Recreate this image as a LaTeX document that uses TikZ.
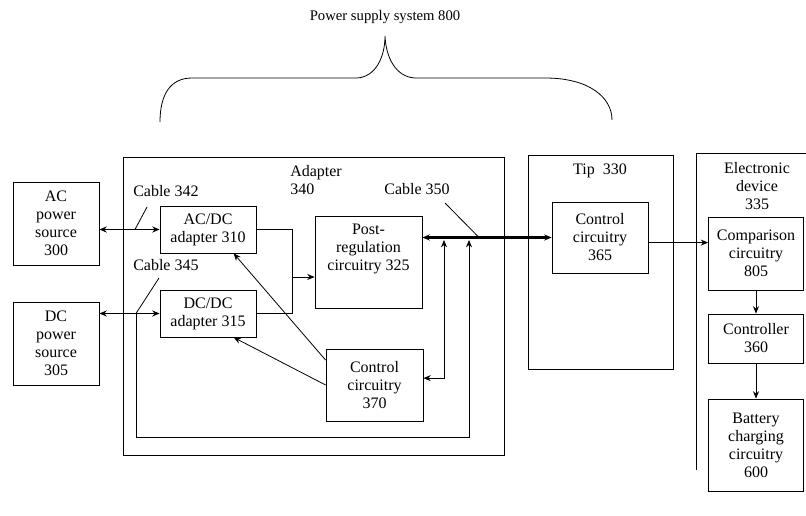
\documentclass[tikz,border=0pt]{standalone}
\usepackage{fontspec}
\setmainfont{Liberation Serif}
\usetikzlibrary{arrows.meta}
\begin{document}
\begin{tikzpicture}[>={Stealth[length=5.5pt,width=4.5pt]}, x=0.75pt, y=-0.75pt,
  font=\fontsize{12}{13.5}\selectfont,
  box/.style={draw, line width=0.6pt, align=center, inner sep=1pt},
  frame/.style={draw, line width=0.6pt, inner sep=0pt},
  cable/.style={<->, line width=1.3pt},
  bus/.style={<->, line width=2pt},
  wire/.style={line width=0.6pt}]
  \useasboundingbox (0,0) rectangle (806,516);
  % brace and title: power supply system
  \node (title) at (385,17) {\fontsize{11}{13}\selectfont Power supply system 800};
  \draw[wire] (160,122) .. controls (160,95) and (170,78) .. (192,78) -- (357,78)
    .. controls (375,77) and (385,58) .. (385,36)
    .. controls (386,58) and (396,77) .. (415,78) -- (545,78)
    .. controls (590,78) and (612,98) .. (612,120);
  % sources
  \node[box, minimum width=64.5pt, minimum height=62.25pt] (acsrc) at (56,223.5) {AC\\power\\source\\300};
  \node[box, minimum width=64.5pt, minimum height=62.25pt] (dcsrc) at (56,343.5) {DC\\power\\source\\305};
  % adapter 340
  \node[frame, minimum width=285.75pt, minimum height=223.5pt] (adapter) at (313.5,306) {};
  \node[anchor=north west, align=left, inner sep=0pt] (adaptertext) at (290,165) {Adapter\\340};
  \node[box, minimum width=72pt, minimum height=35.25pt] (acdc) at (208,229.5) {AC/DC\\adapter 310};
  \node[box, minimum width=72pt, minimum height=35.25pt] (dcdc) at (208,313.5) {DC/DC\\adapter 315};
  \node[box, minimum width=80.25pt, minimum height=69pt] (postreg) at (368.5,262) {};
  \node[anchor=north, align=center, inner sep=0pt] (postregtext) at (368.5,224) {Post-\\regulation\\circuitry 325};
  \node[box, minimum width=72.75pt, minimum height=54pt] (ctl370) at (374.5,385) {Control\\circuitry\\370};
  % tip 330
  \node[frame, minimum width=108.75pt, minimum height=160.5pt] (tip) at (600.5,262) {};
  \node (tiptext) at (600,171) {Tip\ \ 330};
  \node[box, minimum width=72pt, minimum height=53.25pt] (ctl365) at (600,237.5) {Control\\circuitry\\365};
  % electronic device 335
  \coordinate (devtop) at (696,153);
  \draw[wire] (806,153) -- (devtop) -- (696,470);
  \node[align=center] (devtext) at (757,186) {Electronic\\device\\335};
  \node[box, minimum width=71.25pt, minimum height=54.75pt] (cmp805) at (756,253.5) {Comparison\\circuitry\\805};
  \node[box, minimum width=71.25pt, minimum height=36.75pt] (ctrl360) at (756,338.5) {Controller\\360};
  \node[box, minimum width=71.25pt, minimum height=69pt] (batt600) at (756,445) {Battery\\charging\\circuitry\\600};
  % cables and labels
  \node[anchor=west, inner sep=0pt] (cab342) at (133,191) {Cable 342};
  \node[anchor=west, inner sep=0pt] (cab345) at (133,265) {Cable 345};
  \node (cab350) at (417,189) {Cable 350};
  \coordinate (j342) at (135,229.5);
  \coordinate (j345) at (136,313.5);
  \coordinate (j350) at (479,237.5);
  \coordinate (j350a) at (444,240);
  \coordinate (j350b) at (469,240);
  \coordinate (merge) at (292,277);
  \draw[cable] (acdc.west -| acsrc.east) -- (acdc.west);
  \draw[cable] (dcdc.west -| dcsrc.east) -- (dcdc.west);
  \draw[bus] (ctl365.west -| postreg.east) -- (ctl365.west);
  \draw[wire] (147,207) -- (j342);
  \draw[wire] (159,278) -- (j345);
  \draw[wire] (445,203) -- (j350);
  % connections inside the adapter
  \draw[wire] (acdc.east) -| (merge);
  \draw[wire] (dcdc.east) -| (merge);
  \draw[wire, ->] (merge) -- (merge -| postreg.west);
  \draw[wire, ->] (ctl370.153) -- (acdc.-43);
  \draw[wire, ->] (ctl370.west) -- (dcdc.-43);
  \draw[wire, <->] (ctl370.8) -| (j350a);
  \draw[wire, ->] (j345) -- ++(0,124) -| (j350b);
  % connections in the device
  \draw[wire, ->] (ctl365.-6) -- (ctl365.-6 -| cmp805.west);
  \draw[wire, ->] (cmp805.south) -- (ctrl360.north);
  \draw[wire, ->] (ctrl360.south) -- (batt600.north);
\end{tikzpicture}
\end{document}
